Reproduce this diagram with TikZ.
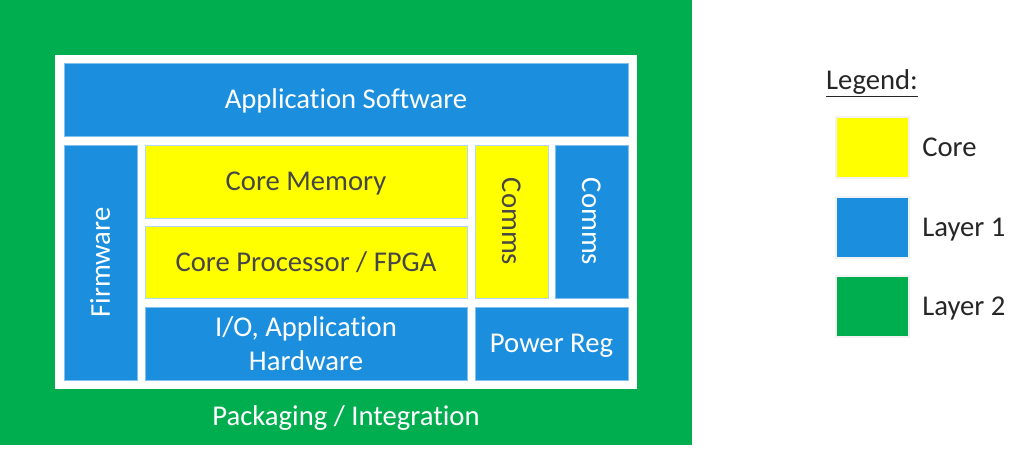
\documentclass[tikz,border=0pt]{standalone}
\usepackage{fontspec}
\setmainfont[Ligatures=NoCommon]{Carlito}
\usetikzlibrary{positioning}

\definecolor{pkggreen}{RGB}{0,173,79}
\definecolor{layerblue}{RGB}{27,143,222}
\definecolor{coreyellow}{RGB}{255,255,0}
\definecolor{darktext}{RGB}{70,70,70}
\definecolor{keytext}{RGB}{38,38,38}

\tikzset{
  blk/.style={rectangle, inner sep=0pt, align=center, line width=0.6pt,
    text height=19.3pt, text depth=5.2pt, font=\fontsize{21.5}{25}\selectfont},
  layerone/.style={blk, fill=layerblue, draw=layerblue!55!white, text=white},
  corebox/.style={blk, fill=coreyellow, draw=layerblue!35!white, text=darktext},
  keybox/.style={rectangle, inner sep=0pt, draw=gray!10, line width=1.5pt,
    minimum width=54.75pt, minimum height=45.75pt},
  keylabel/.style={inner sep=0pt, text=keytext, text height=19.3pt, text depth=5.2pt,
    font=\fontsize{21.5}{25}\selectfont},
}

\begin{document}
\begin{tikzpicture}[x=0.75pt, y=-0.75pt]
    \useasboundingbox (0,0) rectangle (1024,451);

    % layer 2 and the white frame
    \fill[pkggreen] (0,0) rectangle (692,445);
    \fill[white] (55,55) rectangle (637,389);

    \node[layerone, minimum width=423pt, minimum height=54.75pt] (app) at (346,99.5) {Application Software};
    \node[layerone, minimum width=176.25pt, minimum height=54.75pt, rotate=90] (firmware) at (100.5,262.5) {Firmware};
    \node[corebox, minimum width=241.5pt, minimum height=54.75pt] (coremem) at (306,181.5) {Core Memory};
    \node[corebox, minimum width=241.5pt, minimum height=54pt] (coreproc) at (306,262) {Core Processor / FPGA};
    \node[corebox, minimum width=114.75pt, minimum height=54.75pt, rotate=-90] (commsa) at (511.5,221.5) {Comms};
    \node[layerone, minimum width=114.75pt, minimum height=54.75pt, rotate=-90] (commsb) at (591.5,221.5) {Comms};
    \node[layerone, minimum width=241.5pt, minimum height=54.75pt, text height=, text depth=] (io) at (306,343.5) {I/O, Application\\Hardware};
    \node[layerone, minimum width=114.75pt, minimum height=54.75pt] (power) at (551.5,343.5) {Power Reg};

    \node[keylabel, text=white] (pack) at (346,416) {Packaging / Integration};

    % legend
    \node[keylabel] (legend) at (872,80) {\underline{Legend:}};
    \node[keybox, fill=coreyellow] (keycore) at (872.5,147.5) {};
    \node[keybox, fill=layerblue] (keyone) at (872.5,227) {};
    \node[keybox, fill=pkggreen] (keytwo) at (872.5,306) {};
    \node[keylabel, right=9pt of keycore] (keycoretext) {Core};
    \node[keylabel, right=9pt of keyone] (keyonetext) {Layer 1};
    \node[keylabel, right=9pt of keytwo] (keytwotext) {Layer 2};
\end{tikzpicture}
\end{document}
